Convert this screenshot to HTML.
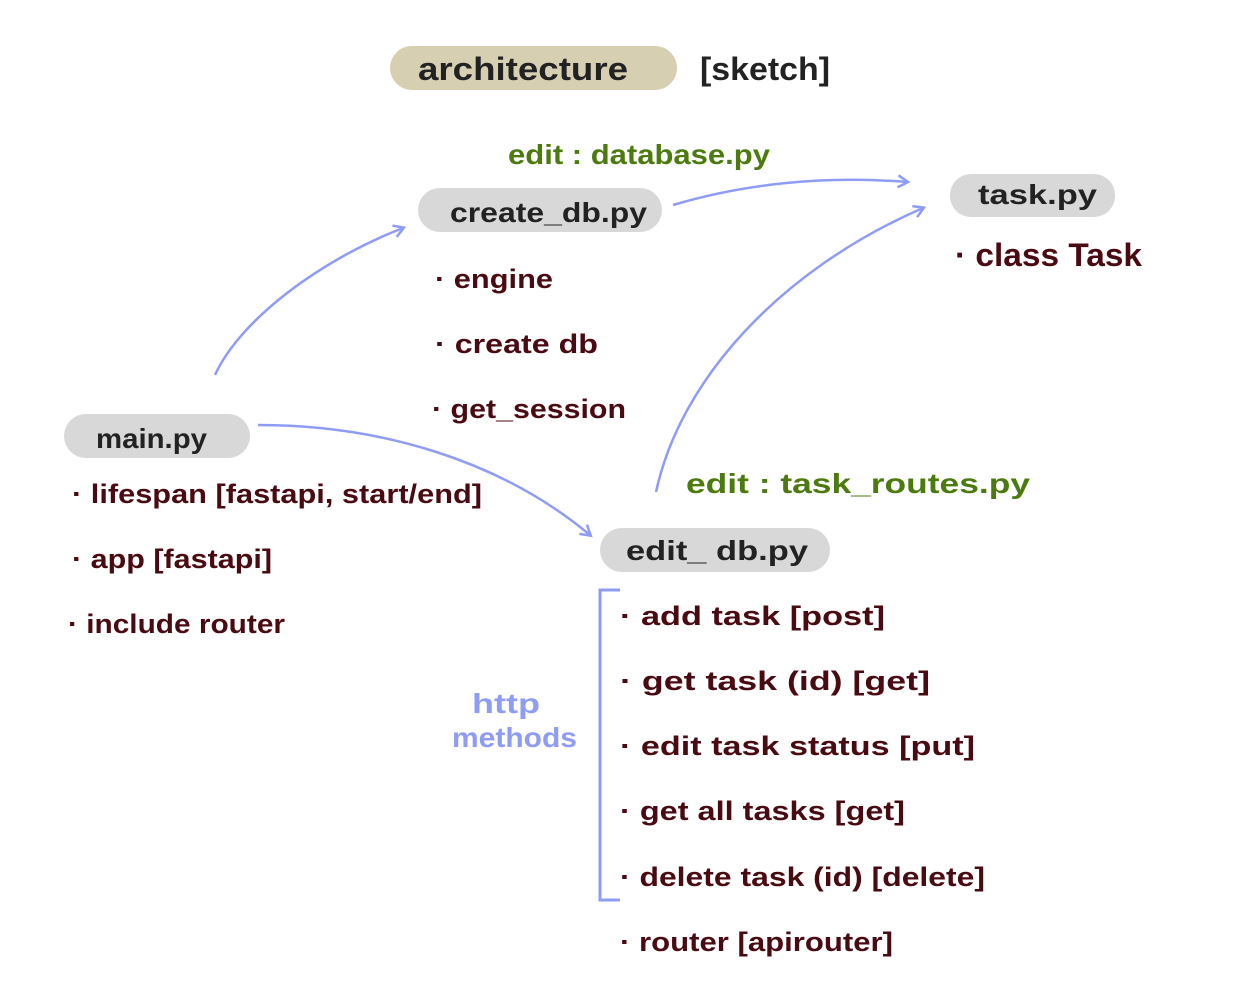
<!DOCTYPE html>
<html><head><meta charset="utf-8"><style>
html,body{margin:0;padding:0;background:#fff;}
svg{display:block;}
text{font-family:"Liberation Sans",sans-serif;font-weight:bold;}
.m{fill:#4a0a12;font-size:27px;}
.g{fill:#4d7a0e;font-size:28px;}
.p{fill:#222;font-size:28px;}
</style></head><body>
<svg width="1259" height="1000" viewBox="0 0 1259 1000" xmlns="http://www.w3.org/2000/svg">
<defs><marker id="a" markerWidth="14" markerHeight="14" refX="10" refY="7" orient="auto" markerUnits="userSpaceOnUse"><path d="M1,1 L11,7 L1,13" fill="none" stroke="#8e9cf5" stroke-width="2.5"/></marker></defs>
<rect x="390" y="46" width="287" height="44" rx="22" fill="#d6cfb1"/>
<text x="418" y="80" class="p" style="font-size:32px" textLength="210" lengthAdjust="spacingAndGlyphs">architecture</text>
<text x="700" y="80" class="p" style="font-size:32px" textLength="130" lengthAdjust="spacingAndGlyphs">[sketch]</text>
<text x="508" y="164" class="g" textLength="262" lengthAdjust="spacingAndGlyphs">edit : database.py</text>
<rect x="418" y="188" width="244" height="44" rx="22" fill="#d8d8d8"/>
<text x="450" y="222" class="p" textLength="197" lengthAdjust="spacingAndGlyphs">create_db.py</text>
<rect x="950" y="174" width="165" height="43" rx="21" fill="#d8d8d8"/>
<text x="978" y="204" class="p" textLength="119" lengthAdjust="spacingAndGlyphs">task.py</text>
<text x="955" y="266" class="m" style="font-size:32px" textLength="187" lengthAdjust="spacingAndGlyphs">· class Task</text>
<text x="435" y="288" class="m" textLength="118" lengthAdjust="spacingAndGlyphs">· engine</text>
<text x="435" y="353" class="m" textLength="163" lengthAdjust="spacingAndGlyphs">· create db</text>
<text x="432" y="418" class="m" textLength="194" lengthAdjust="spacingAndGlyphs">· get_session</text>
<rect x="64" y="414" width="186" height="44" rx="22" fill="#d8d8d8"/>
<text x="96" y="448" class="p" textLength="111" lengthAdjust="spacingAndGlyphs">main.py</text>
<text x="72" y="503" class="m" textLength="410" lengthAdjust="spacingAndGlyphs">· lifespan [fastapi, start/end]</text>
<text x="72" y="568" class="m" textLength="200" lengthAdjust="spacingAndGlyphs">· app [fastapi]</text>
<text x="68" y="633" class="m" textLength="217" lengthAdjust="spacingAndGlyphs">· include router</text>
<text x="686" y="493" class="g" textLength="344" lengthAdjust="spacingAndGlyphs">edit : task_routes.py</text>
<rect x="600" y="528" width="230" height="44" rx="22" fill="#d8d8d8"/>
<text x="626" y="560" class="p" textLength="182" lengthAdjust="spacingAndGlyphs">edit_ db.py</text>
<path d="M620,590 L600,590 L600,900 L620,900" fill="none" stroke="#8e9cf5" stroke-width="3"/>
<text x="472" y="713" fill="#8e9cf5" style="font-size:28px" textLength="68" lengthAdjust="spacingAndGlyphs">http</text>
<text x="452" y="747" fill="#8e9cf5" style="font-size:28px" textLength="125" lengthAdjust="spacingAndGlyphs">methods</text>
<text x="620" y="625" class="m" textLength="265" lengthAdjust="spacingAndGlyphs">· add  task [post]</text>
<text x="620" y="690" class="m" textLength="310" lengthAdjust="spacingAndGlyphs">· get  task (id) [get]</text>
<text x="620" y="755" class="m" textLength="355" lengthAdjust="spacingAndGlyphs">· edit task status  [put]</text>
<text x="620" y="820" class="m" textLength="285" lengthAdjust="spacingAndGlyphs">· get all tasks [get]</text>
<text x="620" y="886" class="m" textLength="365" lengthAdjust="spacingAndGlyphs">· delete task (id) [delete]</text>
<text x="620" y="951" class="m" textLength="273" lengthAdjust="spacingAndGlyphs">· router [apirouter]</text>
<g fill="none" stroke="#8e9cf5" stroke-width="2.5" marker-end="url(#a)">
<path d="M215,375 C240,320 320,260 403,228"/>
<path d="M673,205 C740,185 820,175 907,182"/>
<path d="M258,425 C380,425 500,460 590,535"/>
<path d="M656,492 C680,380 780,270 923,208"/>
</g>
</svg>
</body></html>
